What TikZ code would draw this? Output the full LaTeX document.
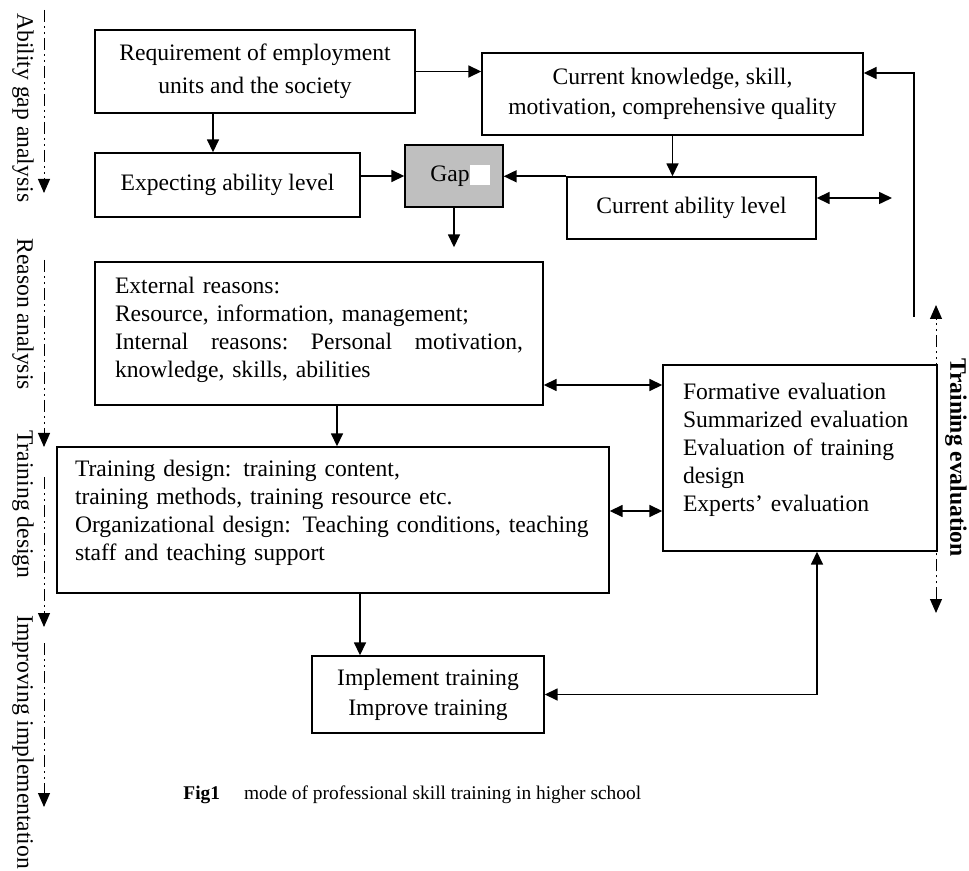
\documentclass[tikz,border=0pt]{standalone}
\usepackage{fontspec}
\setmainfont{Liberation Serif}
\usetikzlibrary{arrows.meta}
\newcommand{\boxfont}{\fontsize{11.8}{14}\selectfont}
\newcommand{\capfont}{\fontsize{9.7}{11.6}\selectfont}

\begin{document}
\begin{tikzpicture}[x=0.5pt,y=-0.5pt]
\tikzstyle{box}=[draw,line width=0.7pt,inner sep=0pt,font=\boxfont]
\tikzstyle{link}=[line width=0.8pt,-{Triangle[length=6.5pt,width=6pt]}]
\tikzstyle{dlink}=[line width=0.8pt,{Triangle[length=6.5pt,width=6pt]}-{Triangle[length=6.5pt,width=6pt]}]
\tikzstyle{phase}=[line width=0.5pt,dash pattern=on 6pt off 2pt on 1pt off 2pt on 1pt off 2pt,-{Triangle[length=7pt,width=6pt]}]
\tikzstyle{phaselab}=[rotate=-90,anchor=west,inner sep=0pt,font=\boxfont]
\path[use as bounding box] (0,0) rectangle (969,871);

% ability gap analysis
\node[box,minimum width=160pt,minimum height=41.5pt,align=center] (req) at (255,71.5) {Requirement of employment\\[2.5pt]units and the society};
\node[box,minimum width=190.5pt,minimum height=41pt,align=center] (know) at (672.5,94) {Current knowledge, skill,\\[1pt]motivation, comprehensive quality};
\node[box,minimum width=132.5pt,minimum height=32pt] (expect) at (227.5,185) {Expecting ability level};
\node[box,minimum width=49pt,minimum height=31pt,fill=gray!50] (gap) at (454,176) {\hspace*{6pt}Gap{\color{white}\rule[-2pt]{10pt}{10pt}}};
\node[box,minimum width=124.5pt,minimum height=31pt] (cur) at (691.5,208) {Current ability level};

% reasons, design, evaluation
\node[box,minimum width=224pt,minimum height=71.5pt,text width=204pt,align=left,text depth=48pt] (ext) at (319,333.5) {External reasons:\\Resource, information, management;\\Internal\hfill reasons:\hfill Personal\hfill motivation,\\knowledge, skills, abilities};
\node[box,minimum width=137pt,minimum height=93pt,text width=117pt,align=left,text depth=66.5pt] (form) at (800,458) {Formative evaluation\\Summarized evaluation\\Evaluation of training\\design\\Experts' evaluation};
\node[box,minimum width=276pt,minimum height=73pt,text width=258pt,align=left,text depth=52pt] (train) at (333,520) {Training design: training content,\\training methods, training resource etc.\\Organizational design: Teaching conditions, teaching\\staff and teaching support};
\node[box,minimum width=116pt,minimum height=38.5pt,align=center] (impl) at (428,694.5) {Implement training\\[1pt]Improve training};

% connectors
\draw[link] (req.east) -- (req.east -| know.west);
\draw[link] ([xshift=-21pt]req.south) -- ([xshift=-21pt]req.south |- expect.north);
\draw[link] (gap.west -| expect.east) -- (gap.west);
\draw[link] (cur.north west) -- (cur.north west -| gap.east);
\draw[link] (know.south) -- (know.south |- cur.north);
\coordinate (curend) at (892,198);
\draw[dlink] ([yshift=5pt]cur.east) -- (curend);
\coordinate (fbfoot) at (914,317);
\draw[link] (fbfoot) |- ([yshift=10.5pt]know.east);
\draw[link,shorten >=7pt] (gap.south) -- (gap.south |- ext.north);
\draw[dlink] ([yshift=-25.75pt]ext.east) -- ([yshift=-25.75pt]ext.east -| form.west);
\draw[link] ([xshift=9pt]ext.south) -- ([xshift=9pt]ext.south |- train.north);
\draw[dlink] ([yshift=4.5pt]train.east) -- ([yshift=4.5pt]train.east -| form.west);
\draw[link] ([xshift=13.5pt]train.south) -- ([xshift=13.5pt]train.south |- impl.north);
\draw[dlink] ([xshift=8.5pt]form.south) |- (impl.east);

% phases on the left
\foreach \ya/\yb in {10/193,260/447,477/627,643/807}
  \draw[phase] (44,\ya) -- (44,\yb);
\foreach \name/\ys/\txt in {pgap/13/Ability gap analysis,preason/238/Reason analysis,pdesign/430/Training design,pimpl/615/Improving implementation}
  \node[phaselab] (\name) at (23,\ys) {\txt};

% training evaluation on the right
\coordinate (evtop) at (936,305);
\coordinate (evbot) at (936,613);
\draw[phase,{Triangle[length=7pt,width=6pt]}-{Triangle[length=7pt,width=6pt]}] (evbot) -- (evtop);
\node[phaselab,font=\boxfont\bfseries] (peval) at (956,358) {Training evaluation};

% caption
\node[anchor=west,inner sep=0pt,font=\capfont] (caption) at (183,795) {\textbf{Fig1}\hspace{12pt}mode of professional skill training in higher school};
\end{tikzpicture}
\end{document}
